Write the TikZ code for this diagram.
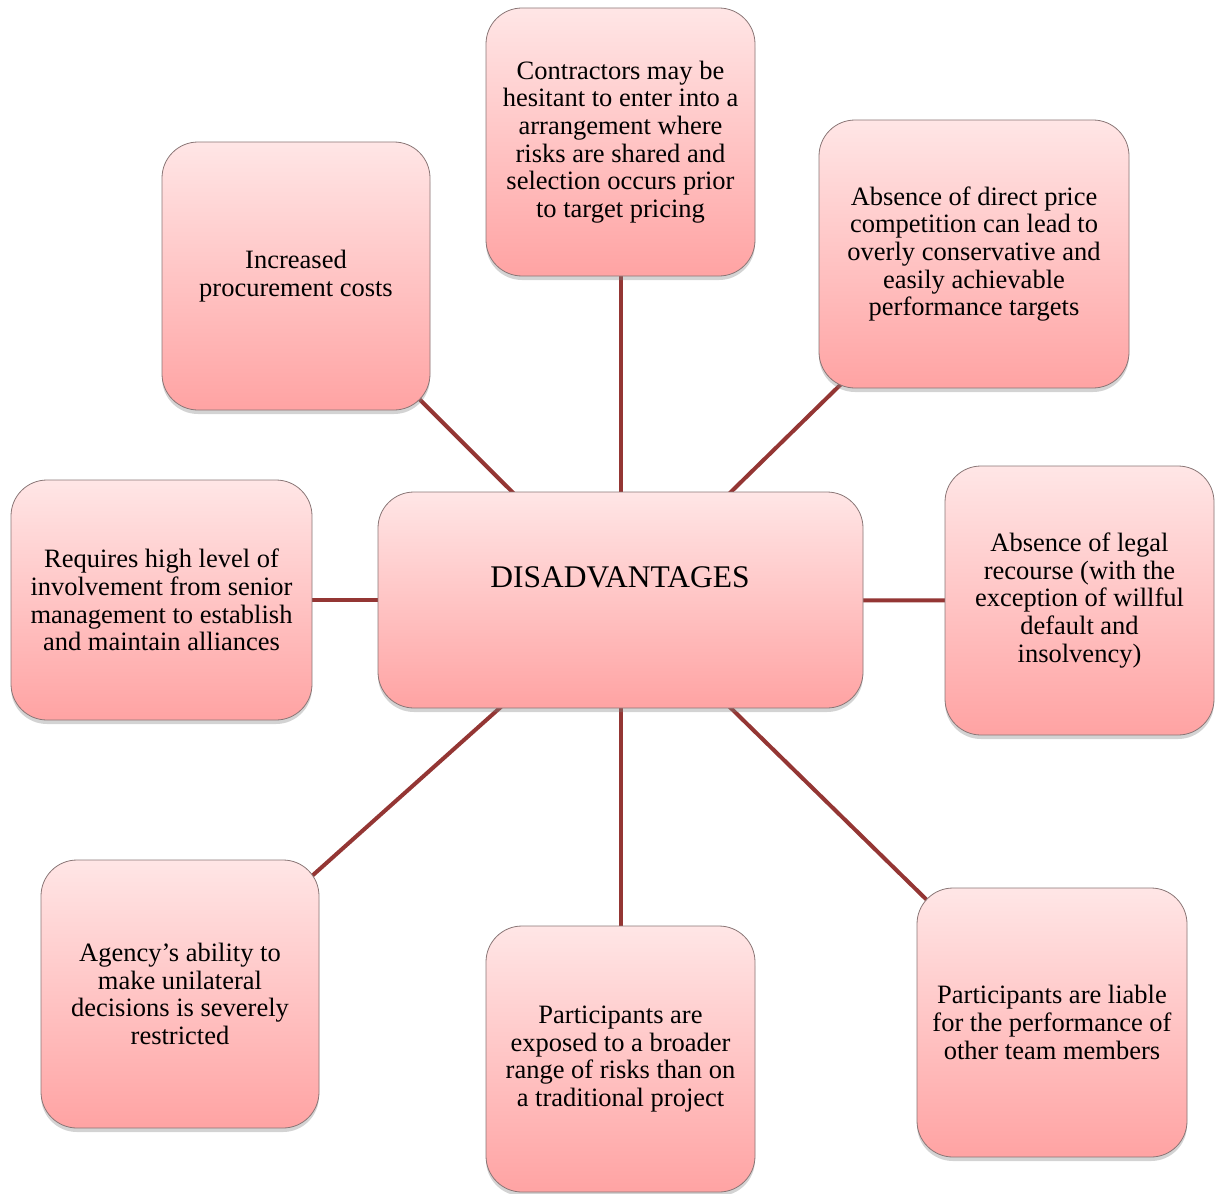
\documentclass[tikz,border=0pt]{standalone}
\usepackage{fontspec}
\setmainfont{Liberation Serif}
\usetikzlibrary{shadows,backgrounds}
\definecolor{linkred}{HTML}{943634}
\definecolor{boxtop}{HTML}{FFE6E6}
\definecolor{boxbot}{HTML}{FFA3A3}
\definecolor{boxedge}{HTML}{8A7676}
\tikzset{
  pbox/.style={draw=boxedge, line width=0.8pt, rounded corners=36pt,
    top color=boxtop, bottom color=boxbot,
    drop shadow={opacity=0.35, shadow xshift=0pt, shadow yshift=-4pt},
    align=center, inner sep=0pt, font=\fontsize{26.5}{27.6}\selectfont},
  link/.style={linkred, line width=4pt}
}
\begin{document}
\begin{tikzpicture}[x=1pt,y=-1pt]
\useasboundingbox (0,0) rectangle (1222,1193);
\node[pbox, minimum width=485pt, minimum height=216pt] (c) at (620.5,600) {};
\node[font=\fontsize{31.5}{33}\selectfont] (ct) at (620,577) {DISADVANTAGES};
\node[pbox, minimum width=269pt, minimum height=268pt] (t) at (620.5,142)
  {Contractors may be\\hesitant to enter into a\\arrangement where\\risks are shared and\\selection occurs prior\\to target pricing};
\node[pbox, minimum width=268pt, minimum height=268pt] (tl) at (296,276)
  {Increased\\procurement costs};
\node[pbox, minimum width=310pt, minimum height=268pt] (tr) at (974,254)
  {Absence of direct price\\competition can lead to\\overly conservative and\\easily achievable\\performance targets};
\node[pbox, minimum width=301pt, minimum height=240pt] (l) at (161.5,600)
  {Requires high level of\\involvement from senior\\management to establish\\and maintain alliances};
\node[pbox, minimum width=269pt, minimum height=269pt] (r) at (1079.5,600.5)
  {Absence of legal\\recourse (with the\\exception of willful\\default and\\insolvency)};
\node[pbox, minimum width=278pt, minimum height=268pt] (bl) at (180,994)
  {Agency’s ability to\\make unilateral\\decisions is severely\\restricted};
\node[pbox, minimum width=269pt, minimum height=266pt] (b) at (620.5,1059)
  {Participants are\\exposed to a broader\\range of risks than on\\a traditional project};
\node[pbox, minimum width=270pt, minimum height=269pt] (br) at (1052,1022.5)
  {Participants are liable\\for the performance of\\other team members};
\begin{pgfonlayer}{background}
\draw[link] (c.center) -- (t.center);
\draw[link] (c.center) -- (tl.center);
\draw[link] (c.center) -- (tr.center);
\draw[link] (c.center) -- (l.center);
\draw[link] (c.center) -- (r.center);
\draw[link] (c.center) -- (bl.center);
\draw[link] (c.center) -- (b.center);
\draw[link] (c.center) -- (br.center);
\end{pgfonlayer}
\end{tikzpicture}
\end{document}
